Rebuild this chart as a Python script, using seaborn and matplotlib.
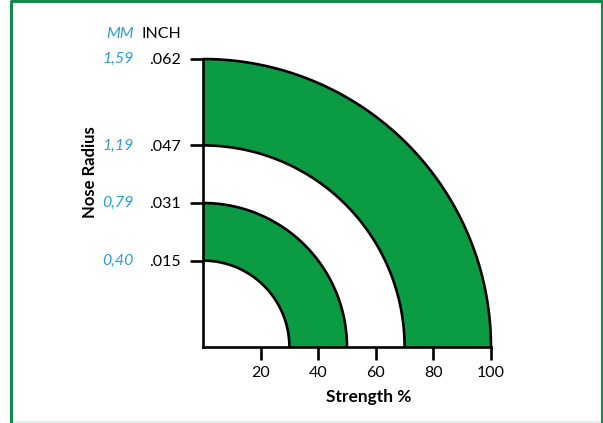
import numpy as np
import matplotlib
matplotlib.use("Agg")
import matplotlib.pyplot as plt
from matplotlib.patches import Wedge, Rectangle
from matplotlib.lines import Line2D
import seaborn as sns

# band edges along the strength axis (same scale used for nose radius)
radii = [30, 50, 70, 100]
inch_labels = [".015", ".031", ".047", ".062"]
mm_labels = ["0,40", "0,79", "1,19", "1,59"]
x_ticks = [20, 40, 60, 80, 100]
# rings: (inner, outer, filled?)
rings = [(0, 30, False), (30, 50, True), (50, 70, False), (70, 100, True)]

green = "#0b9c43"
blue = "#2a9fd6"
frame_green = "#118a4c"

sns.set_theme(style="ticks")
plt.rcParams["font.family"] = ["Lato", "DejaVu Sans"]

fig = plt.figure(figsize=(6.03, 4.23), dpi=100)
ax = fig.add_axes([203 / 603, 76 / 423, 288 / 603, 288 / 423])

for inner, outer, filled in rings:
    w = Wedge((0, 0), outer, 0, 90, width=outer - inner,
              facecolor=green if filled else "white",
              edgecolor="none", zorder=1)
    ax.add_patch(w)
# arc outlines
theta = np.linspace(0, np.pi / 2, 200)
for r in radii:
    ax.plot(r * np.cos(theta), r * np.sin(theta), color="black", lw=1.9,
            zorder=2, solid_capstyle="butt", clip_on=False)

ax.set_xlim(0, 100)
ax.set_ylim(0, 100)
sns.despine(ax=ax)
for s in ("left", "bottom"):
    ax.spines[s].set_linewidth(1.9)
    ax.spines[s].set_color("black")
    ax.spines[s].set_zorder(3)

ax.set_xticks(x_ticks)
ax.set_xticklabels([str(t) for t in x_ticks])
ax.set_yticks(radii)
ax.set_yticklabels(inch_labels)
ax.tick_params(axis="both", length=9.5, width=1.9, color="black",
               labelsize=11.5, labelcolor="black", direction="out")
ax.tick_params(axis="y", pad=6.5)
ax.tick_params(axis="x", pad=4)

ax.set_xlabel("Strength %", fontsize=12.5, fontweight="bold", color="black")
ax.xaxis.set_label_coords(0.576, -0.145)
ax.set_ylabel("Nose Radius", fontsize=12, fontweight="bold", color="black")
ax.yaxis.set_label_coords(-0.366, 0.608)

# metric column
for r, lab in zip(radii, mm_labels):
    ax.annotate(lab, xy=(0, r), xycoords="data", xytext=(-50, 0),
                textcoords="offset points", ha="right", va="center",
                fontsize=11.5, style="italic", color=blue)
ax.annotate("MM", xy=(0, 100), xycoords="data", xytext=(-50, 18),
            textcoords="offset points", ha="right", va="center",
            fontsize=11.5, style="italic", color=blue)
ax.annotate("INCH", xy=(0, 100), xycoords="data", xytext=(-15.5, 18),
            textcoords="offset points", ha="right", va="center",
            fontsize=11.5, color="black")

# outer frame: left, top, right in green, pale line at bottom
fx = [10.5 / 603, 10.5 / 603, 602 / 603, 602 / 603]
fy = [0, 422 / 423, 422 / 423, 0]
fig.lines.append(Line2D(fx, fy, transform=fig.transFigure,
                        color=frame_green, lw=2.2))
fig.patches.append(Rectangle((11 / 603, 0.5 / 423), 590 / 603, 1.5 / 423,
                             transform=fig.transFigure, fill=True,
                             facecolor="#e0efe9", edgecolor="none"))

fig.savefig("out.png", dpi=100)
